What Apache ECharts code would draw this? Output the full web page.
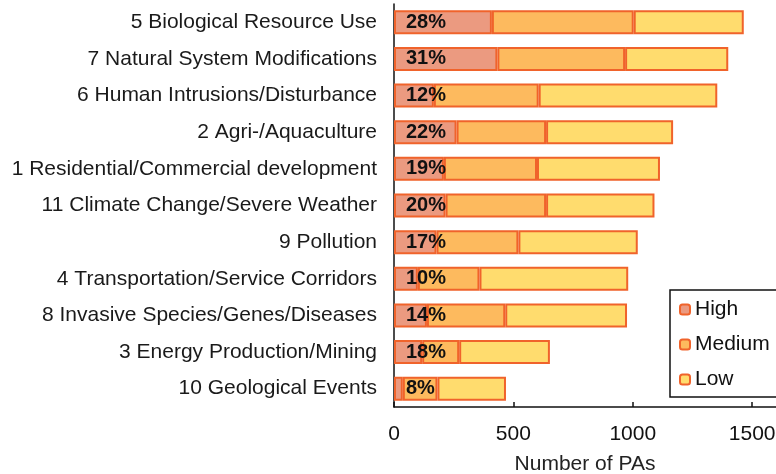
<!DOCTYPE html>
<html>
<head>
<meta charset="utf-8">
<script src="https://cdn.jsdelivr.net/npm/echarts@6/dist/echarts.min.js"></script>
<style>
  html, body { margin: 0; padding: 0; background: #fff; }
  #chart { width: 776px; height: 474px; }
</style>
</head>
<body>
<div id="chart"></div>
<script>
"use strict";

// threat categories, top to bottom
var categories = [
  "5 Biological Resource Use",
  "7 Natural System Modifications",
  "6 Human Intrusions/Disturbance",
  "2 Agri-/Aquaculture",
  "1 Residential/Commercial development",
  "11 Climate Change/Severe Weather",
  "9 Pollution",
  "4 Transportation/Service Corridors",
  "8 Invasive Species/Genes/Diseases",
  "3 Energy Production/Mining",
  "10 Geological Events"
];

var highVals   = [410, 433, 167, 262, 209, 216, 178, 100, 138, 118, 37];
var mediumVals = [594, 535, 439, 375, 390, 421, 343, 258, 328, 155, 145];
var lowVals    = [461, 432, 748, 532, 515, 454, 500, 623, 510, 380, 287];

// share of "High" shown on each bar
var pctLabels = ["28%", "31%", "12%", "22%", "19%", "20%", "17%", "10%", "14%", "18%", "8%"];

var xTicks = [0, 500, 1000, 1500];

var FONT = "Liberation Sans, Arial, sans-serif";
var EDGE = "#F0632B";

function barSeries(name, data, color, withLabel){
  var s = {
    name: name,
    type: "bar",
    stack: "total",
    data: data,
    barWidth: 24,
    itemStyle: { color: color, borderColor: EDGE, borderWidth: 2 },
    emphasis: { disabled: true }
  };
  if (withLabel){
    s.label = {
      show: true,
      position: [12, "50%"],
      verticalAlign: "middle",
      formatter: function(p){ return pctLabels[p.dataIndex]; },
      color: "#111",
      fontFamily: FONT,
      fontWeight: "bold",
      fontSize: 20
    };
  }
  return s;
}

var chart = echarts.init(document.getElementById("chart"), null, { renderer: "canvas" });

chart.setOption({
  animation: false,
  textStyle: { fontFamily: FONT },
  grid: { left: 394, right: 0, top: 4, bottom: 67, containLabel: false, outerBoundsMode: "none" },
  legend: {
    orient: "vertical",
    left: 670,
    top: 290,
    padding: [9, 12, 7, 9],
    itemGap: 14,
    itemWidth: 10,
    itemHeight: 10,
    borderColor: "#111",
    borderWidth: 1.5,
    data: ["High", "Medium", "Low"],
    textStyle: { fontFamily: FONT, fontSize: 21, color: "#111" }
  },
  xAxis: {
    type: "value",
    min: 0,
    max: 1600,
    interval: 500,
    name: "Number of PAs",
    nameLocation: "middle",
    nameGap: 47,
    nameTextStyle: { fontFamily: FONT, fontSize: 21, color: "#222" },
    axisLine: { show: true, lineStyle: { color: "#111", width: 1.5 } },
    axisTick: { show: true, inside: true, length: 5, customValues: xTicks, lineStyle: { color: "#111", width: 1.5 } },
    axisLabel: {
      customValues: xTicks,
      formatter: function(v){ return String(v); },
      fontFamily: FONT, fontSize: 21, color: "#111", margin: 17
    },
    splitLine: { show: false }
  },
  yAxis: {
    type: "category",
    inverse: true,
    data: categories,
    axisLine: { show: true, lineStyle: { color: "#111", width: 1.5 } },
    axisTick: { show: false },
    axisLabel: { fontFamily: FONT, fontSize: 21, color: "#1a1a1a", margin: 17 }
  },
  series: [
    barSeries("High", highVals, "#EB9A80", true),
    barSeries("Medium", mediumVals, "#FDBA5E", false),
    barSeries("Low", lowVals, "#FFDC6E", false)
  ]
});
</script>
</body>
</html>
